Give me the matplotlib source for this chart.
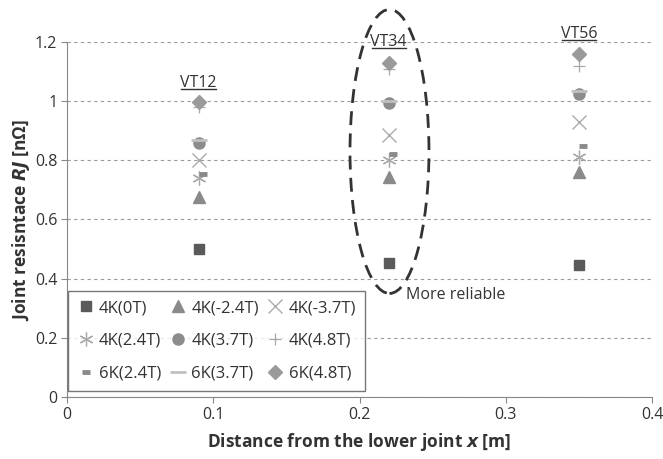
import matplotlib
matplotlib.use("Agg")
import matplotlib.pyplot as plt
from matplotlib.patches import Ellipse
from matplotlib.lines import Line2D

plt.rcParams['font.family'] = ['Open Sans', 'DejaVu Sans']

positions = [0.09, 0.22, 0.35]
labels_vt = ["VT12", "VT34", "VT56"]

s_4K_0T = [0.50, 0.453, 0.446]
s_4K_m24T = [0.676, 0.745, 0.76]
s_4K_m37T = [0.80, 0.885, 0.93]
s_4K_24T = [0.74, 0.80, 0.81]
s_4K_37T = [0.86, 0.995, 1.025]
s_4K_48T = [0.98, 1.11, 1.12]
s_6K_24T = [0.753, 0.82, 0.85]
s_6K_37T = [0.87, 1.0, 1.035]
s_6K_48T = [0.997, 1.13, 1.16]

fig = plt.figure(figsize=(6.63, 4.59), dpi=100)
ax = fig.add_axes([67/663, 1-397/459, (652-67)/663, (397-42)/459])

ax.set_xlim(0, 0.4)
ax.set_ylim(0, 1.2)
ax.set_yticks([0, 0.2, 0.4, 0.6, 0.8, 1.0, 1.2])
ax.set_yticklabels(["0", "0.2", "0.4", "0.6", "0.8", "1", "1.2"])
ax.set_xticks([0, 0.1, 0.2, 0.3, 0.4])
ax.set_xticklabels(["0", "0.1", "0.2", "0.3", "0.4"])
ax.grid(axis='y', linestyle=(0, (3, 3)), color='#9a9a9a', linewidth=0.8)
ax.set_axisbelow(True)
for sp in ['top', 'right']:
    ax.spines[sp].set_visible(False)
for sp in ['left', 'bottom']:
    ax.spines[sp].set_color('#888888')
ax.tick_params(axis='both', length=4, direction='out', color='#888888',
               labelsize=11.5, labelcolor='#333333', pad=3)

kw = dict(linestyle='none')
h = {}
h['4K(0T)'], = ax.plot(positions, s_4K_0T, marker='s', ms=7, color='#5a5a5a', label='4K(0T)', **kw)
h['4K(-2.4T)'], = ax.plot(positions, s_4K_m24T, marker='^', ms=9, color='#8a8a8a', label='4K(-2.4T)', **kw)
h['4K(-3.7T)'], = ax.plot(positions, s_4K_m37T, marker='x', ms=10, color='#ababab', mew=1.0, label='4K(-3.7T)', **kw)
h['4K(2.4T)'], = ax.plot(positions, s_4K_24T, marker=(6, 2, 0), ms=10, color='#aaaaaa', mew=0.9, label='4K(2.4T)', **kw)
h['4K(3.7T)'], = ax.plot(positions, s_4K_37T, marker='o', ms=8, color='#8c8c8c', label='4K(3.7T)', **kw)
h['4K(4.8T)'], = ax.plot(positions, s_4K_48T, marker='+', ms=8, color='#a8a8a8', mew=0.9, label='4K(4.8T)', **kw)
h['6K(2.4T)'], = ax.plot([p + 0.003 for p in positions], s_6K_24T, marker='_', ms=6, mew=3.5, color='#8a8a8a', label='6K(2.4T)', **kw)
h['6K(3.7T)'], = ax.plot(positions, s_6K_37T, marker='_', ms=11, mew=2.0, color='#c0c0c0', label='6K(3.7T)', **kw)
h['6K(4.8T)'], = ax.plot(positions, s_6K_48T, marker='D', ms=7, color='#9a9a9a', label='6K(4.8T)', **kw)

vt_y = [1.035, 1.173, 1.20]
vt_texts = []
for x, t, y in zip(positions, labels_vt, vt_y):
    vt_texts.append(ax.text(x, y, t, ha='center', va='bottom', fontsize=11.5, color='#333333'))

ell = Ellipse((0.2205, 0.83), 0.054, 0.96, fill=False, edgecolor='#333333',
              linestyle=(0, (5, 3)), linewidth=2.0, clip_on=False)
ax.add_patch(ell)
ax.text(0.232, 0.345, 'More reliable', fontsize=11.5, color='#333333', va='center', ha='left')

# legend filled row-wise (matplotlib fills column-wise, so reorder)
order_rows = [['4K(0T)', '4K(-2.4T)', '4K(-3.7T)'],
              ['4K(2.4T)', '4K(3.7T)', '4K(4.8T)'],
              ['6K(2.4T)', '6K(3.7T)', '6K(4.8T)']]
col_major = [order_rows[r][c] for c in range(3) for r in range(3)]
leg = ax.legend([h[k] for k in col_major], col_major, loc='lower left', ncol=3,
                fontsize=12, frameon=True, fancybox=False,
                edgecolor='#555555', borderaxespad=0.0, handletextpad=0.3,
                columnspacing=0.5, labelspacing=1.0, handlelength=1.0,
                borderpad=0.55, bbox_to_anchor=(0.002, 0.018))
leg.get_frame().set_linewidth(1.0)
for t in leg.get_texts():
    t.set_color('#333333')

ax.set_xlabel(r'Distance from the lower joint $\boldsymbol{x}$ [m]', fontsize=12.5,
              fontweight='bold', color='#333333', labelpad=6)
ax.set_ylabel('Joint resisntace $\\mathbfit{RJ}$ [nΩ]', fontsize=12.5,
              fontweight='bold', color='#333333', labelpad=2)

# underline VT labels
fig.canvas.draw()
r = fig.canvas.get_renderer()
inv = fig.transFigure.inverted()
for t in vt_texts:
    bb = t.get_window_extent(renderer=r)
    (x0, y0), (x1, _) = inv.transform([(bb.x0 + 1, bb.y0 + 2), (bb.x1 - 1, bb.y0 + 2)])
    fig.add_artist(Line2D([x0, x1], [y0, y0], transform=fig.transFigure,
                          color='#333333', lw=1.0))

fig.savefig('out.png', dpi=100)
